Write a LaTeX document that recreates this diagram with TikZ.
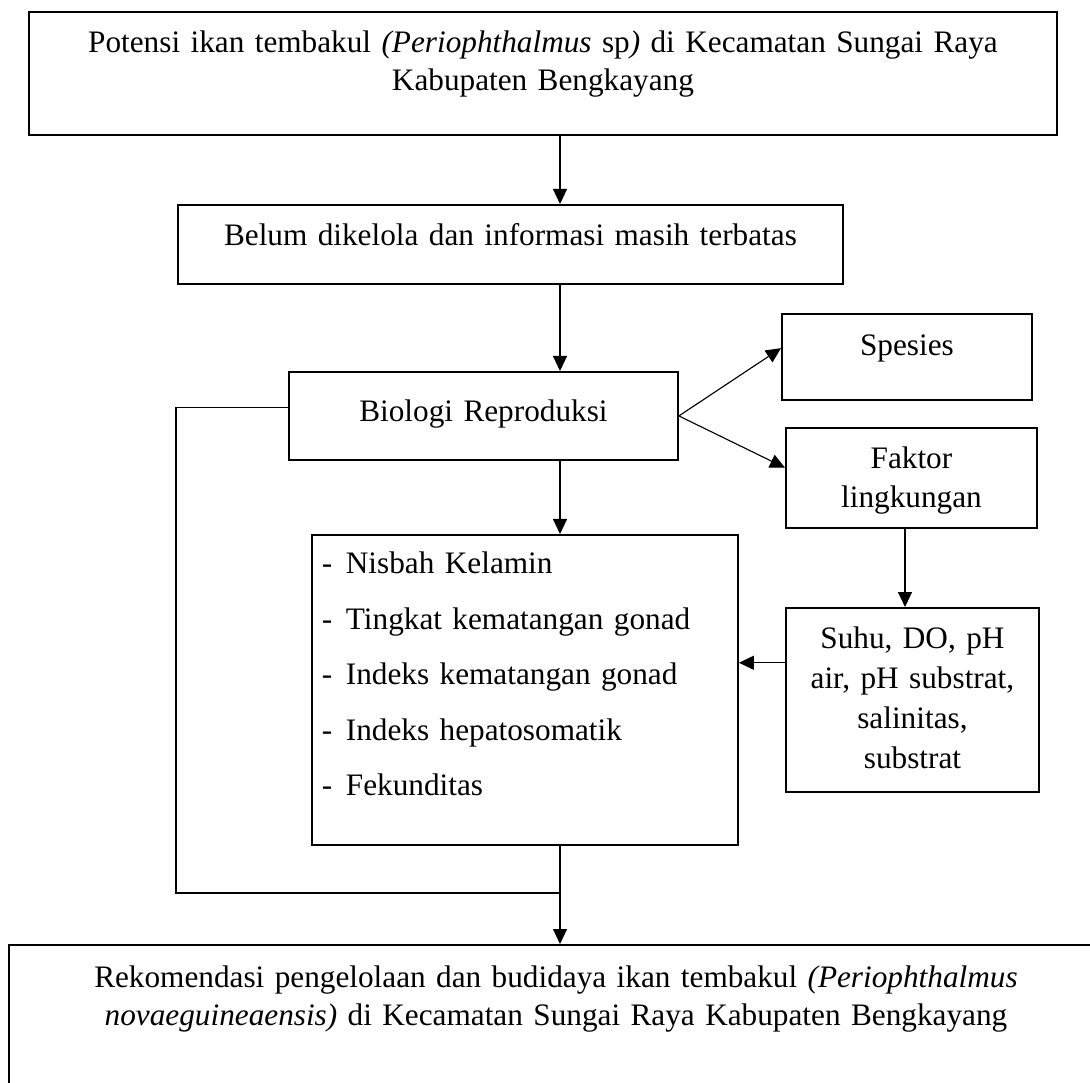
\documentclass[tikz,border=0pt]{standalone}
\usepackage{fontspec}
\setmainfont{Liberation Serif}
\usetikzlibrary{calc,arrows.meta}
\newcommand{\latin}[1]{\textit{#1}}

\begin{document}
\begin{tikzpicture}[x=0.4pt, y=-0.4pt,
    every node/.style={font=\fontsize{12.5}{15.2}\selectfont},
    kotak/.style={draw, line width=0.75pt, anchor=north west, inner xsep=0pt, inner ysep=0pt, align=center},
    panah/.style={line width=0.45pt, -{Triangle[length=6pt, width=5.6pt]}},
    garis/.style={line width=0.45pt}]
    \useasboundingbox (0,0) rectangle (1090,1083);
    \node[kotak, text width=411.2pt, text height=16.4pt, text depth=32.8pt] (atas) at (28,11)
        {Potensi ikan tembakul \latin{(Periophthalmus} sp\latin{)} di Kecamatan Sungai Raya\\Kabupaten Bengkayang};
    \node[kotak, text width=266pt, text height=16.4pt, text depth=15.2pt] (belum) at (177,204)
        {Belum dikelola dan informasi masih terbatas};
    \node[kotak, text width=155.6pt, text height=20pt, text depth=15.2pt] (bio) at (288,371)
        {Biologi Reproduksi};
    \node[kotak, text width=100pt, text height=16.8pt, text depth=17.6pt] (spesies) at (781,313)
        {Spesies};
    \node[kotak, text width=100.4pt, text height=16.4pt, text depth=23.6pt, font=\fontsize{12.5}{15.6}\selectfont] (faktor) at (785,427)
        {Faktor\\lingkungan};
    \node[kotak, align=left, inner xsep=4pt, text width=162.4pt, text height=15.6pt, text depth=108.4pt, font=\fontsize{12.5}{22.2}\selectfont] (daftar) at (311,534)
        {\makebox[9.6pt][l]{-}Nisbah Kelamin\\
         \makebox[9.6pt][l]{-}Tingkat kematangan gonad\\
         \makebox[9.6pt][l]{-}Indeks kematangan gonad\\
         \makebox[9.6pt][l]{-}Indeks hepatosomatik\\
         \makebox[9.6pt][l]{-}Fekunditas};
    \node[kotak, text width=101.2pt, text height=16.4pt, text depth=57.2pt, font=\fontsize{12.5}{16}\selectfont] (suhu) at (785,607)
        {Suhu, DO, pH\\air, pH substrat,\\salinitas,\\substrat};
    \node[kotak, text width=437.6pt, text height=17.2pt, text depth=45.2pt] (bawah) at (8,944)
        {Rekomendasi pengelolaan dan budidaya ikan tembakul \latin{(Periophthalmus}\\\latin{novaeguineaensis)} di Kecamatan Sungai Raya Kabupaten Bengkayang};

    % alur utama
    \coordinate (sumbu) at (560,0);
    \draw[panah] (atas.south -| sumbu) -- (belum.north -| sumbu);
    \draw[panah] (belum.south -| sumbu) -- (bio.north -| sumbu);
    \draw[panah] (bio.south -| sumbu) -- (daftar.north -| sumbu);
    \draw[panah] (bio.east) -- ($(spesies.north west)!0.4!(spesies.south west)$);
    \draw[panah] (bio.east) -- ($(faktor.north west)!0.4!(faktor.south west)$);
    \coordinate (turun) at (905,0);
    \draw[panah] (faktor.south -| turun) -- (suhu.north -| turun);
    \draw[panah] ($(suhu.north west)!0.3!(suhu.south west)$) coordinate (masuk) -- (masuk -| daftar.east);
    % garis balik kiri
    \coordinate (kiri) at (176,893);
    \draw[garis] ([yshift=3.2pt]bio.west) -| (kiri) -- (kiri -| sumbu);
    \draw[panah] (daftar.south -| sumbu) -- (bawah.north -| sumbu);
\end{tikzpicture}
\end{document}
